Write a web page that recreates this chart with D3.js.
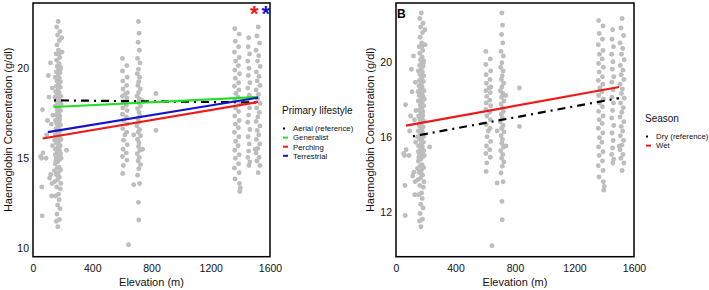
<!DOCTYPE html>
<html>
<head>
<meta charset="utf-8">
<script src="https://cdn.jsdelivr.net/npm/d3@7"></script>
<style>
body { margin: 0; background: #fff; }
svg { font-family: "Liberation Sans", Arial, sans-serif; }
</style>
</head>
<body>
<div id="chart"></div>
<script>
/* Data: [elevation (m), haemoglobin (g/dl)] */
var pointsLow = [
	[62,11.8],[60,13.4],[52,15.1],[68,15.3],[58,15.0],[64,17.7],[104,19.6],[112,13.9],[128,13.6],[120,14.1],
	[98,17.1],[88,15.0],[92,16.3],[108,18.4],[126,12.9],[124,16.9],[130,18.9],[132,15.7],[118,20.3],[134,17.4],
	[168,11.2],[158,11.5],[178,11.6],[162,11.9],[182,12.2],[166,12.4],[176,12.7],[152,12.9],[172,13.0],[184,13.3],
	[160,13.4],[188,13.6],[146,13.7],[166,13.8],[178,13.95],[156,14.1],[170,14.2],[186,14.35],[162,14.45],[176,14.5],
	[150,14.7],[166,14.8],[182,14.95],[158,15.05],[172,15.1],[186,15.25],[164,15.3],[178,15.45],[152,15.5],[168,15.6],
	[184,15.7],[158,15.85],[174,15.9],[188,16.05],[162,16.1],[178,16.25],[150,16.3],[168,16.4],[182,16.5],[156,16.65],
	[172,16.7],[186,16.85],[162,16.9],[176,17.05],[152,17.1],[168,17.2],[180,17.35],[158,17.4],[172,17.5],[186,17.65],
	[164,17.7],[176,17.85],[150,17.9],[168,18.0],[182,18.15],[156,18.2],[172,18.3],[188,18.45],[162,18.5],[176,18.65],
	[154,18.7],[168,18.8],[184,18.95],[158,19.0],[172,19.1],[186,19.25],[162,19.3],[178,19.45],[150,19.5],[168,19.6],
	[182,19.75],[158,19.8],[172,19.9],[186,20.05],[164,20.1],[176,20.25],[160,20.45],[180,20.6],[156,20.8],[172,21.0],
	[162,21.3],[178,21.55],[166,21.85],[182,22.05],[160,22.3],[170,22.6],[196,20.9],[194,21.7],[226,15.45],[190,18.0],
	[146,16.0],[148,18.4],[190,15.0],[144,14.3],[170,15.35],[160,16.55],[180,16.0],[166,17.55],[176,18.95],[154,14.9],
	[184,19.95],[170,14.0],[160,17.0],[180,17.15],[174,20.8],[150,15.2]
];

var pointsMid = [
	[604,20.55],[634,20.15],[604,19.85],[636,19.5],[606,19.3],[632,19.05],[608,18.85],[638,18.65],[604,18.45],[634,18.35],
	[610,18.15],[630,17.95],[606,17.8],[636,17.65],[604,17.45],[630,17.3],[610,17.1],[634,16.9],[606,16.65],[632,16.45],
	[612,16.0],[636,15.75],[608,15.5],[630,15.3],[604,15.1],[634,14.9],[610,14.6],[606,14.15],[620,16.3],[626,18.6],
	[712,22.6],[716,21.95],[710,21.45],[718,21.0],[706,20.55],[722,20.3],[712,19.95],[704,19.7],[720,19.5],[714,19.25],
	[708,19.05],[724,18.85],[712,18.65],[702,18.45],[718,18.3],[710,18.1],[726,17.9],[706,17.75],[716,17.55],[722,17.35],
	[708,17.2],[714,17.0],[702,16.8],[720,16.6],[710,16.45],[726,16.25],[706,16.05],[716,15.85],[712,15.65],[722,15.45],
	[704,15.25],[718,15.05],[710,14.85],[726,14.65],[714,14.42],[706,14.06],[680,13.53],[720,13.6],[712,12.55],[714,11.57],
	[645,10.19],[680,16.3],[830,18.6],[830,16.55],[740,15.5],[738,18.2]
];

var pointsHigh = [
	[1362,22.2],[1392,21.9],[1366,21.5],[1388,21.2],[1360,20.9],[1392,20.6],[1368,20.4],[1386,20.15],[1362,19.9],[1394,19.7],
	[1366,19.45],[1388,19.2],[1360,19.0],[1390,18.8],[1370,18.6],[1384,18.4],[1362,18.2],[1394,18.0],[1368,17.8],[1388,17.6],
	[1362,17.35],[1392,17.1],[1366,16.9],[1386,16.7],[1360,16.45],[1390,16.2],[1368,15.95],[1384,15.7],[1362,15.45],[1392,15.2],
	[1366,15.0],[1388,14.7],[1360,14.45],[1392,14.2],[1364,13.85],[1394,13.6],[1400,13.35],[1396,13.15],
	[1456,21.7],[1452,21.2],[1462,20.8],[1450,20.4],[1458,20.0],[1454,19.6],[1464,19.2],[1450,18.9],[1460,18.5],[1452,18.1],
	[1462,17.8],[1456,17.4],[1450,17.0],[1464,16.6],[1452,16.2],[1460,15.8],[1456,15.4],[1450,15.05],[1464,14.8],[1458,14.6],
	[1520,22.3],[1512,21.8],[1530,21.4],[1506,21.0],[1524,20.7],[1516,20.4],[1534,20.1],[1508,19.8],[1526,19.55],[1514,19.3],
	[1532,19.05],[1506,18.8],[1522,18.55],[1516,18.3],[1534,18.05],[1510,17.8],[1528,17.55],[1518,17.3],[1506,17.05],[1532,16.8],
	[1514,16.55],[1524,16.3],[1508,16.05],[1530,15.8],[1518,15.55],[1506,15.3],[1526,15.05],[1512,14.85],[1532,14.6],[1520,14.2],
	[1500,15.5]
];

var xTicks = [0, 400, 800, 1200, 1600];
var yTicksA = [10, 15, 20];
var yTicksB = [12, 16, 20];

/* fitted lines: primary lifestyle */
var lifestyleNames = ["Aerial (reference)", "Generalist", "Perching", "Terrestrial"];
var lifestyleX0 = [142, 142, 65, 100];
var lifestyleY0 = [18.22, 17.85, 16.1, 16.45];
var lifestyleX1 = [1520, 1520, 1520, 1520];
var lifestyleY1 = [18.1, 18.4, 18.13, 18.37];

/* fitted lines: season */
var seasonNames = ["Dry (reference)", "Wet"];
var seasonX0 = [114, 67];
var seasonY0 = [16.02, 16.59];
var seasonX1 = [1500, 1500];
var seasonY1 = [18.06, 18.65];

var lifestyleColors = ["#000000", "#22e022", "#ee1a1a", "#1414cc"];
var lifestyleDash = ["2,5,8,5", null, null, null];
var seasonColors = ["#000000", "#ee1a1a"];
var seasonDash = ["2,5,8,5", null];

var allPoints = pointsLow.concat(pointsMid, pointsHigh);

var svg = d3.select("#chart").append("svg")
	.attr("width", 709)
	.attr("height", 290);

function drawPanel(p) {
	var x = d3.scaleLinear().domain([0, 1600]).range([p.left, p.right]);
	var y = d3.scaleLinear().domain(p.yDomain).range([p.bottom, p.top]);

	// points
	svg.append("g")
		.selectAll("circle")
		.data(allPoints).enter()
		.append("circle")
		.attr("cx", d => x(d[0]))
		.attr("cy", d => y(d[1]))
		.attr("r", 2.45)
		.attr("fill", "#bdbdbd");

	// fitted lines
	var lines = p.names.map(function(n, i) {
		return {name: n, values: [[p.x0[i], p.y0[i]], [p.x1[i], p.y1[i]]], color: p.colors[i], dash: p.dash[i]};
	});
	var line = d3.line().x(d => x(d[0])).y(d => y(d[1]));
	svg.append("g")
		.selectAll("path")
		.data(lines).enter()
		.append("path")
		.attr("d", d => line(d.values))
		.attr("fill", "none")
		.attr("stroke", d => d.color)
		.attr("stroke-width", 2.2)
		.attr("stroke-dasharray", d => d.dash);

	// panel box
	svg.append("rect")
		.attr("x", p.left)
		.attr("y", p.top)
		.attr("width", p.right - p.left)
		.attr("height", p.bottom - p.top)
		.attr("fill", "none")
		.attr("stroke", "#000")
		.attr("stroke-width", 1.5);

	// axes
	var xAxis = d3.axisBottom(x).tickValues(xTicks).tickFormat(d3.format("d")).tickSize(0).tickPadding(8);
	var yAxis = d3.axisLeft(y).tickValues(p.yTicks).tickFormat(d3.format("d")).tickSize(0).tickPadding(4);

	var gx = svg.append("g")
		.attr("transform", `translate(0, ${p.bottom})`)
		.call(xAxis);
	var gy = svg.append("g")
		.attr("transform", `translate(${p.left}, 0)`)
		.call(yAxis);
	[gx, gy].forEach(function(g) {
		g.select(".domain").remove();
		g.attr("font-family", null).attr("font-size", null);
		g.selectAll("text").attr("font-size", "10.5px").attr("fill", "#111");
	});

	// axis titles
	svg.append("text")
		.attr("x", (p.left + p.right) / 2)
		.attr("y", 285.5)
		.attr("text-anchor", "middle")
		.attr("font-size", "11px")
		.attr("fill", "#111")
		.text("Elevation (m)");

	svg.append("text")
		.attr("transform", `translate(${p.ytitleX}, ${(p.top + p.bottom) / 2}) rotate(-90)`)
		.attr("text-anchor", "middle")
		.attr("font-size", "11px")
		.attr("fill", "#111")
		.text("Haemoglobin Concentration (g/dl)");

	// legend
	var lg = svg.append("g").attr("transform", `translate(${p.legendX}, ${p.legendY})`);
	lg.append("text")
		.attr("x", 0)
		.attr("y", 0)
		.attr("font-size", "10px")
		.attr("fill", "#111")
		.text(p.legendTitle);
	var items = lg.selectAll(".item")
		.data(lines).enter()
		.append("g")
		.attr("class", "item")
		.attr("transform", (d, i) => `translate(0, ${15 + i * 9.1})`);
	items.append("line")
		.attr("x1", 1).attr("x2", 6)
		.attr("y1", 0).attr("y2", 0)
		.attr("stroke", d => d.color)
		.attr("stroke-width", 2)
		.attr("stroke-dasharray", d => d.dash);
	items.append("text")
		.attr("x", 11)
		.attr("y", 2.8)
		.attr("font-size", "7.8px")
		.attr("fill", "#111")
		.text(d => d.name);

	return x;
}

drawPanel({
	left: 33, right: 270, top: 3, bottom: 256.7,
	yDomain: [9.53, 23.63], yTicks: yTicksA, ytitleX: 12,
	names: lifestyleNames, x0: lifestyleX0, y0: lifestyleY0, x1: lifestyleX1, y1: lifestyleY1,
	colors: lifestyleColors, dash: lifestyleDash,
	legendTitle: "Primary lifestyle", legendX: 282, legendY: 113.5
});

drawPanel({
	left: 396, right: 634, top: 3, bottom: 256.7,
	yDomain: [9.6, 23.13], yTicks: yTicksB, ytitleX: 374,
	names: seasonNames, x0: seasonX0, y0: seasonY0, x1: seasonX1, y1: seasonY1,
	colors: seasonColors, dash: seasonDash,
	legendTitle: "Season", legendX: 645, legendY: 121.5
});

// panel label
svg.append("text")
	.attr("x", 397)
	.attr("y", 18)
	.attr("font-size", "12px")
	.attr("font-weight", "bold")
	.text("B");

// significance stars
svg.append("text")
	.attr("x", 254.3)
	.attr("y", 20.5)
	.attr("text-anchor", "middle")
	.attr("font-size", "22px")
	.attr("font-weight", "bold")
	.attr("fill", lifestyleColors[2])
	.text("*");
svg.append("text")
	.attr("x", 265.7)
	.attr("y", 20.5)
	.attr("text-anchor", "middle")
	.attr("font-size", "22px")
	.attr("font-weight", "bold")
	.attr("fill", lifestyleColors[3])
	.text("*");
</script>
</body>
</html>
